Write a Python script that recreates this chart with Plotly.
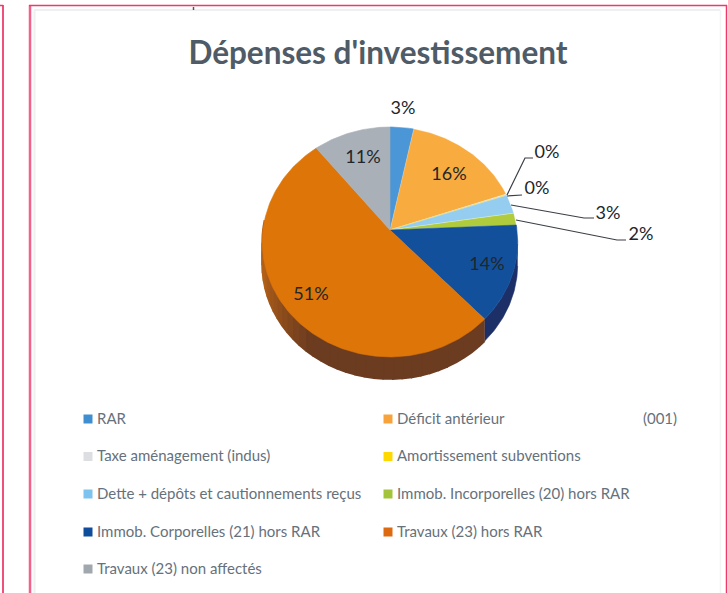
import math
import plotly.graph_objects as go

# ---- data ----
categories = ["RAR", "Déficit antérieur", "Taxe aménagement (indus)", "Amortissement subventions",
              "Dette + dépôts et cautionnements reçus", "Immob. Incorporelles (20) hors RAR",
              "Immob. Corporelles (21) hors RAR", "Travaux (23) hors RAR", "Travaux (23) non affectés"]
values = [3.3, 16.4, 0.1, 0.1, 2.7, 1.7, 13.6, 51.3, 10.8]
title_text = "Dépenses d'investissement"
legend_note = "(001)"

# ---- styles ----
face_colors = ["#4A96D6", "#F8AC40", "#DCDEE2", "#FFD800", "#94CDF0", "#B0CC3C", "#12509C", "#DE7508", "#A9B0B7"]
swatch_colors = ["#3F8FD0", "#F7A23B", "#DCDEE2", "#FFD800", "#7DC3F0", "#A3C43A", "#0F4C9C", "#DD6A10", "#A0A8AE"]
LEGEND_TEXT = "#66717B"
LABEL_TEXT = "#22262A"
FONT = "Lato"

# tilted, perspective pie geometry (screen pixels)
CX, CY, RX, RY, K, DEPTH = 390.0, 230.0, 127.0, 113.7, 0.104, 22.0


def project(theta_deg, drop=0.0):
    t = math.radians(theta_deg)
    u, v = math.sin(t), math.cos(t)
    d = 1 + K * v
    return CX + RX * u / d, CY - RY * v / d + drop


def arc(a, b, drop=0.0):
    n = max(2, int(abs(b - a)) + 2)
    return [project(a + (b - a) * i / (n - 1), drop) for i in range(n)]


fig = go.Figure()


def polygon(pts, color, line=None, width=0.6):
    fig.add_trace(go.Scatter(x=[p[0] for p in pts], y=[p[1] for p in pts], mode="lines",
                             fill="toself", fillcolor=color,
                             line=dict(color=line or color, width=width),
                             hoverinfo="skip", showlegend=False))


total = sum(values)
bounds = [0.0]
for val in values:
    bounds.append(bounds[-1] + val / total * 360)

# ---- side wall, from the lower slices ----
RIGHT_LIMIT = 97.0   # wall starts where the face turns away
LEFT_LIMIT = 275.0
corp_a, corp_b = bounds[6], bounds[7]
trav_a, trav_b = bounds[7], bounds[8]
a = max(corp_a, RIGHT_LIMIT)
polygon(arc(a, corp_b) + arc(corp_b, a, DEPTH), "#1C2F66")
end = min(trav_b, LEFT_LIMIT)
STRIPS = 36
for i in range(STRIPS):
    s0 = trav_a + (end - trav_a) * i / STRIPS
    s1 = trav_a + (end - trav_a) * (i + 1) / STRIPS
    f = (s0 - trav_a) / (end - trav_a)
    g = 0.0 if f < 0.55 else min(1.0, (f - 0.55) / 0.28)
    r = int(108 + (178 - 108) * g)
    gr = int(60 + (96 - 60) * g)
    b = int(32 + (24 - 32) * g)
    polygon(arc(s0, s1) + arc(s1, s0, DEPTH), f"rgb({r},{gr},{b})", width=2)

# ---- top faces ----
for i, col in enumerate(face_colors):
    polygon([(CX, CY)] + arc(bounds[i], bounds[i + 1]) + [(CX, CY)], col,
            line="rgba(255,255,255,0.4)" if i in (1, 4, 5) else col)

# ---- percentage labels (positions only; text comes from values) ----
label_pos = [(403, 109), (449, 175), (547, 153), (537, 189), (608, 214), (641, 235),
             (487, 265), (311, 295), (363, 158)]
pct = [f"{round(v / total * 100)}%" for v in values]
fig.add_trace(go.Scatter(x=[p[0] for p in label_pos], y=[p[1] for p in label_pos], mode="text",
                         text=pct, textposition="middle center",
                         textfont=dict(family=FONT, size=18, color=LABEL_TEXT),
                         hoverinfo="skip", showlegend=False))

# ---- leader lines ----
leaders = [[(507, 195), (525, 158), (533, 158)],
           [(507, 196), (522, 195)],
           [(511, 205), (584, 218), (594, 218)],
           [(516, 220), (617, 240), (626, 240)]]
for ld in leaders:
    fig.add_trace(go.Scatter(x=[p[0] for p in ld], y=[p[1] for p in ld], mode="lines",
                             line=dict(color="#3A3F45", width=1.2),
                             hoverinfo="skip", showlegend=False))

# ---- legend ----
col_x = [88, 388]
row_y = [420, 457.5, 495, 533, 570]
lx = [col_x[i % 2] for i in range(len(categories))]
ly = [row_y[i // 2] for i in range(len(categories))]
fig.add_trace(go.Scatter(x=lx, y=[v - 1 for v in ly], mode="markers",
                         marker=dict(symbol="square", size=9, color=swatch_colors),
                         hoverinfo="skip", showlegend=False))
fig.add_trace(go.Scatter(x=[v + 9 for v in lx], y=ly, mode="text", text=categories,
                         textposition="middle right",
                         textfont=dict(family=FONT, size=15, color=LEGEND_TEXT),
                         hoverinfo="skip", showlegend=False))
fig.add_trace(go.Scatter(x=[660], y=[row_y[0]], mode="text", text=[legend_note],
                         textposition="middle center",
                         textfont=dict(family=FONT, size=15, color=LEGEND_TEXT),
                         hoverinfo="skip", showlegend=False))

# ---- frame ----
PINK = "#F0386B"
shapes = [
    dict(type="line", x0=30, x1=30, y0=5, y1=593, line=dict(color="#F4608A", width=2.5)),
    dict(type="line", x0=29, x1=727, y0=5.5, y1=5.5, line=dict(color=PINK, width=1.5)),
    dict(type="line", x0=726.5, x1=726.5, y0=5, y1=593, line=dict(color=PINK, width=1.5)),
    dict(type="line", x0=3, x1=3, y0=5, y1=593, line=dict(color="#F0507C", width=2)),
    dict(type="line", x0=0, x1=3, y0=5.5, y1=5.5, line=dict(color=PINK, width=1.5)),
    dict(type="line", x0=34.5, x1=34.5, y0=10, y1=593, line=dict(color="#EEF0F1", width=2)),
    dict(type="line", x0=34, x1=720, y0=10, y1=10, line=dict(color="#EEF0F1", width=2)),
    dict(type="line", x0=720.5, x1=720.5, y0=10, y1=593, line=dict(color="#F3F4F5", width=1.5)),
    dict(type="line", x0=193.5, x1=193.5, y0=7, y1=10, line=dict(color="#555555", width=1.5)),
]

fig.update_layout(
    width=728, height=593, autosize=False,
    margin=dict(l=0, r=0, t=0, b=0),
    paper_bgcolor="white", plot_bgcolor="white",
    showlegend=False, shapes=shapes,
    title=dict(text=title_text, x=378 / 728, y=1 - 53 / 593, xanchor="center", yanchor="middle",
               font=dict(family=FONT, size=31.5, color="#4F5B66", weight=700)),
    xaxis=dict(range=[0, 728], visible=False, fixedrange=True),
    yaxis=dict(range=[593, 0], visible=False, fixedrange=True),
)
fig.write_html("out.html", config={"displayModeBar": False},
               post_script="document.body.style.margin='0';document.documentElement.style.overflow='hidden';")
